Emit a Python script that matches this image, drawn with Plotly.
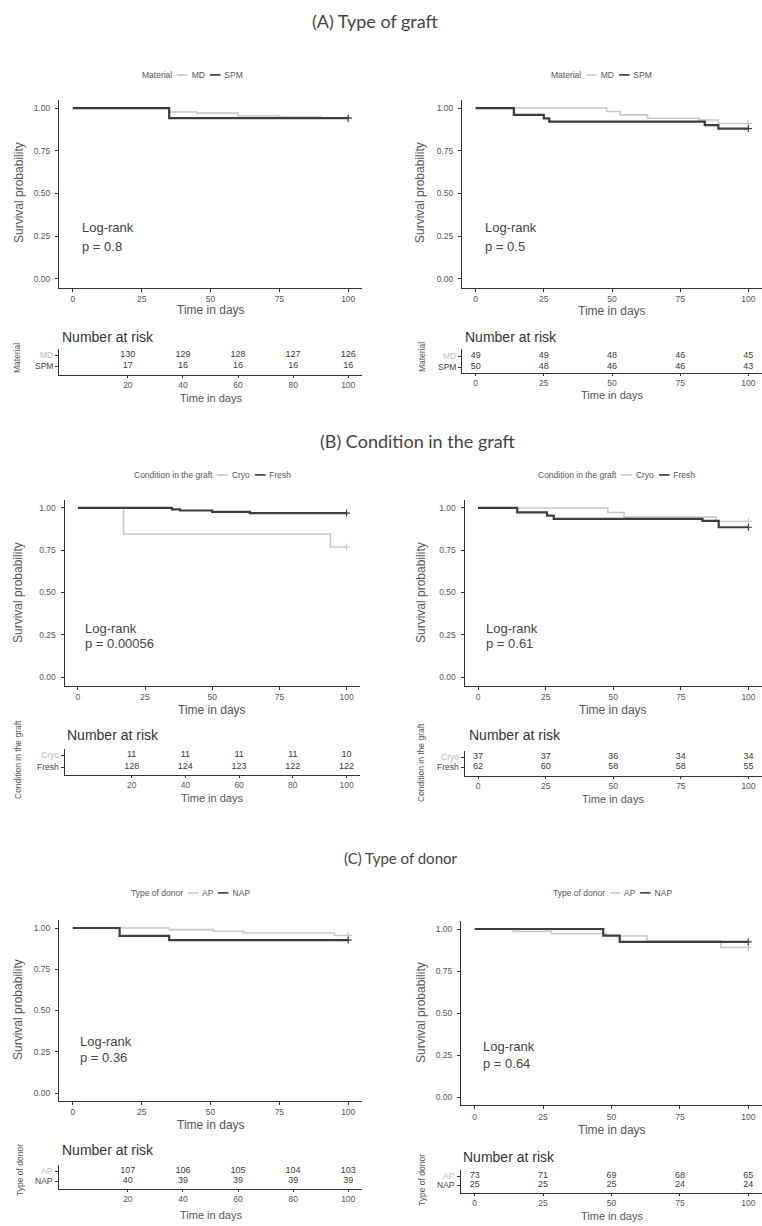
import plotly.graph_objects as go

W, H = 762, 1226

# ---------------- data ----------------
# (A) Type of graft
A1_MD_t = [0, 35, 45, 60, 75, 90, 100]
A1_MD_s = [1.0, 0.977, 0.970, 0.955, 0.948, 0.942, 0.942]
A1_SPM_t = [0, 35, 100]
A1_SPM_s = [1.0, 0.941, 0.941]
A1_risk_t = [20, 40, 60, 80, 100]
A1_risk_MD = [130, 129, 128, 127, 126]
A1_risk_SPM = [17, 16, 16, 16, 16]
A1_p = "p = 0.8"

A2_MD_t = [0, 48, 53, 63, 82, 89, 100]
A2_MD_s = [1.0, 0.98, 0.96, 0.94, 0.93, 0.91, 0.91]
A2_SPM_t = [0, 14, 25, 27, 84, 89, 100]
A2_SPM_s = [1.0, 0.96, 0.94, 0.92, 0.90, 0.88, 0.88]
A2_risk_t = [0, 25, 50, 75, 100]
A2_risk_MD = [49, 49, 48, 46, 45]
A2_risk_SPM = [50, 48, 46, 46, 43]
A2_p = "p = 0.5"

# (B) Condition in the graft
B1_Cryo_t = [0, 17, 94, 100]
B1_Cryo_s = [1.0, 0.846, 0.769, 0.769]
B1_Fresh_t = [0, 35, 38, 50, 64, 100]
B1_Fresh_s = [1.0, 0.992, 0.985, 0.977, 0.970, 0.970]
B1_risk_t = [20, 40, 60, 80, 100]
B1_risk_Cryo = [11, 11, 11, 11, 10]
B1_risk_Fresh = [128, 124, 123, 122, 122]
B1_p = "p = 0.00056"

B2_Cryo_t = [0, 48, 54, 88, 100]
B2_Cryo_s = [1.0, 0.973, 0.946, 0.92, 0.92]
B2_Fresh_t = [0, 14.5, 25.5, 28, 83, 89, 100]
B2_Fresh_s = [1.0, 0.974, 0.955, 0.936, 0.924, 0.886, 0.886]
B2_risk_t = [0, 25, 50, 75, 100]
B2_risk_Cryo = [37, 37, 36, 34, 34]
B2_risk_Fresh = [62, 60, 58, 58, 55]
B2_p = "p = 0.61"

# (C) Type of donor
C1_AP_t = [0, 35, 51, 62, 95, 100]
C1_AP_s = [1.0, 0.99, 0.98, 0.97, 0.955, 0.955]
C1_NAP_t = [0, 17, 35, 100]
C1_NAP_s = [1.0, 0.952, 0.927, 0.927]
C1_risk_t = [20, 40, 60, 80, 100]
C1_risk_AP = [107, 106, 105, 104, 103]
C1_risk_NAP = [40, 39, 39, 39, 39]
C1_p = "p = 0.36"

C2_AP_t = [0, 14, 28, 48, 63, 90, 100]
C2_AP_s = [1.0, 0.986, 0.972, 0.958, 0.93, 0.89, 0.89]
C2_NAP_t = [0, 47, 53, 100]
C2_NAP_s = [1.0, 0.96, 0.923, 0.923]
C2_risk_t = [0, 25, 50, 75, 100]
C2_risk_AP = [73, 71, 69, 68, 65]
C2_risk_NAP = [25, 25, 25, 24, 24]
C2_p = "p = 0.64"

SECTION_TITLES = ["(A) Type of graft", "(B) Condition in the graft", "(C) Type of donor"]
Y_TICKS = [0, 0.25, 0.5, 0.75, 1.0]
Y_TICKTEXT = ["0.00", "0.25", "0.50", "0.75", "1.00"]
X_TICKS = [0, 25, 50, 75, 100]

LIGHT = "#c9c9c9"
DARK = "#3d3d3d"
AXC = "#333333"
TXT = "#555555"
FONT = "Liberation Sans, Arial, sans-serif"

def fx(px):
    return px / W

def fy(py):
    return 1 - py / H

panels = [
    dict(group="Material", names=("MD", "SPM"),
         light=(A1_MD_t, A1_MD_s), dark=(A1_SPM_t, A1_SPM_s),
         risk_t=A1_risk_t, risk_light=A1_risk_MD, risk_dark=A1_risk_SPM, p=A1_p,
         kx=(59, 362), ky=(99.5, 287.5), leg=(193, 75), lr=(80, 228, 247),
         ytitle=(19, 193), xtitle=310,
         nar=(60, 337), rrows=(355, 366, 375, 349), rytitle=(17, 358), rxtitle=398),
    dict(group="Material", names=("MD", "SPM"),
         light=(A2_MD_t, A2_MD_s), dark=(A2_SPM_t, A2_SPM_s),
         risk_t=A2_risk_t, risk_light=A2_risk_MD, risk_dark=A2_risk_SPM, p=A2_p,
         kx=(462, 762), ky=(99.5, 287.5), leg=(601, 75), lr=(483, 228, 247),
         ytitle=(420, 193), xtitle=311,
         nar=(463, 337), rrows=(356, 367, 373, 349), rytitle=(422, 357), rxtitle=395),
    dict(group="Condition in the graft", names=("Cryo", "Fresh"),
         light=(B1_Cryo_t, B1_Cryo_s), dark=(B1_Fresh_t, B1_Fresh_s),
         risk_t=B1_risk_t, risk_light=B1_risk_Cryo, risk_dark=B1_risk_Fresh, p=B1_p,
         kx=(64.5, 360), ky=(499.5, 685.5), leg=(212, 475), lr=(83, 628, 643),
         ytitle=(18, 593), xtitle=710,
         nar=(65, 735), rrows=(755, 767, 775, 749), rytitle=(18, 760), rxtitle=798),
    dict(group="Condition in the graft", names=("Cryo", "Fresh"),
         light=(B2_Cryo_t, B2_Cryo_s), dark=(B2_Fresh_t, B2_Fresh_s),
         risk_t=B2_risk_t, risk_light=B2_risk_Cryo, risk_dark=B2_risk_Fresh, p=B2_p,
         kx=(464.5, 762), ky=(499.5, 685.5), leg=(616, 475), lr=(484, 628, 643),
         ytitle=(421, 593), xtitle=710,
         nar=(467, 735), rrows=(757, 767, 776, 751), rytitle=(421, 763), rxtitle=799),
    dict(group="Type of donor", names=("AP", "NAP"),
         light=(C1_AP_t, C1_AP_s), dark=(C1_NAP_t, C1_NAP_s),
         risk_t=C1_risk_t, risk_light=C1_risk_AP, risk_dark=C1_risk_NAP, p=C1_p,
         kx=(59, 362), ky=(919.75, 1101.25), leg=(190, 893), lr=(78, 1041, 1057),
         ytitle=(18, 1010), xtitle=1125,
         nar=(60, 1150), rrows=(1171, 1181, 1189, 1165), rytitle=(20, 1170), rxtitle=1215),
    dict(group="Type of donor", names=("AP", "NAP"),
         light=(C2_AP_t, C2_AP_s), dark=(C2_NAP_t, C2_NAP_s),
         risk_t=C2_risk_t, risk_light=C2_risk_AP, risk_dark=C2_risk_NAP, p=C2_p,
         kx=(461, 762), ky=(920.6, 1105.4), leg=(612, 893), lr=(481, 1046, 1063),
         ytitle=(421, 1013), xtitle=1130,
         nar=(461, 1157), rrows=(1176, 1185, 1193, 1170), rytitle=(422, 1180), rxtitle=1216),
]

fig = go.Figure()
layout = dict(width=W, height=H, margin=dict(l=0, r=0, t=0, b=0),
              paper_bgcolor="white", plot_bgcolor="white", showlegend=False)
annotations = []

def axis_style():
    return dict(showline=True, linecolor=AXC, linewidth=1, ticks="outside", ticklen=3,
                tickcolor=AXC, tickwidth=1, showgrid=False, zeroline=False,
                tickfont=dict(family=FONT, size=8.5, color=TXT))

def ann(x, y, text, size, color=TXT, xanchor="center", yanchor="middle", angle=0, family=FONT):
    annotations.append(dict(x=fx(x), y=fy(y), xref="paper", yref="paper", text=text,
                            showarrow=False, xanchor=xanchor, yanchor=yanchor, textangle=angle,
                            font=dict(family=family, size=size, color=color)))

ax_i = 0
for p in panels:
    # ---------- KM plot ----------
    ax_i += 1
    sfx = "" if ax_i == 1 else str(ax_i)
    xa = axis_style()
    xa.update(domain=[fx(p["kx"][0]), fx(p["kx"][1])], range=[-5, 105], anchor="y" + sfx,
              tickvals=X_TICKS)
    ya = axis_style()
    ya.update(domain=[fy(p["ky"][1]), fy(p["ky"][0])], range=[-0.05, 1.05], anchor="x" + sfx,
              tickvals=Y_TICKS, ticktext=Y_TICKTEXT, ticklabelstandoff=3)
    layout["xaxis" + sfx] = xa
    layout["yaxis" + sfx] = ya
    for (t, s), col, wd in ((p["light"], LIGHT, 1.6), (p["dark"], DARK, 2.2)):
        fig.add_trace(go.Scatter(x=t, y=s, mode="lines", line=dict(shape="hv", color=col, width=wd),
                                 xaxis="x" + sfx, yaxis="y" + sfx, hoverinfo="skip"))
        fig.add_trace(go.Scatter(x=[t[-1]], y=[s[-1]], mode="markers",
                                 marker=dict(symbol="cross-thin", size=5, line=dict(color=col, width=1.2)),
                                 xaxis="x" + sfx, yaxis="y" + sfx, hoverinfo="skip"))
    kxc = (p["kx"][0] + p["kx"][1]) / 2
    ann(kxc, p["xtitle"], "Time in days", 12)
    ann(p["ytitle"][0], p["ytitle"][1], "Survival probability", 12, angle=-90)
    ann(p["lr"][0], p["lr"][1], "Log-rank", 13, color="#444", xanchor="left")
    ann(p["lr"][0], p["lr"][2], p["p"], 13, color="#444", xanchor="left")
    leg = (f"{p['group']}  <span style='color:{LIGHT}'>━━</span>  {p['names'][0]}  "
           f"<span style='color:{DARK}'>━━</span>  {p['names'][1]}")
    ann(p["leg"][0], p["leg"][1], leg, 8.5)

    # ---------- risk table ----------
    ax_i += 1
    sfx = str(ax_i)
    rt, rb, axis_px, top_px = p["rrows"]
    unit = rb - rt
    ymin = 1 - (axis_px - rb) / unit
    ymax = 2 + (rt - top_px) / unit
    xa = axis_style()
    xa.update(domain=[fx(p["kx"][0]), fx(p["kx"][1])], range=[-5, 105], anchor="y" + sfx,
              tickvals=p["risk_t"], ticklen=2)
    ya = axis_style()
    ya.update(domain=[fy(axis_px), fy(top_px)], range=[ymin, ymax], anchor="x" + sfx,
              tickvals=[1, 2], showticklabels=False)
    layout["xaxis" + sfx] = xa
    layout["yaxis" + sfx] = ya
    for row, vals in ((2, p["risk_light"]), (1, p["risk_dark"])):
        fig.add_trace(go.Scatter(x=p["risk_t"], y=[row] * len(vals), mode="text",
                                 text=[str(v) for v in vals], textposition="middle center",
                                 textfont=dict(family=FONT, size=9, color="#3a3a3a"),
                                 xaxis="x" + sfx, yaxis="y" + sfx, hoverinfo="skip"))
    ax_px = p["kx"][0]
    ann(ax_px - 4, rt, p["names"][0], 8.5, color="#bbbbbb", xanchor="right")
    ann(ax_px - 4, rb, p["names"][1], 8.5, color="#444", xanchor="right")
    ann(p["nar"][0], p["nar"][1], "Number at risk", 14, color="#333", xanchor="left")
    ann(kxc, p["rxtitle"], "Time in days", 11)
    ann(p["rytitle"][0], p["rytitle"][1], p["group"], 8.5, angle=-90)

# section titles
ann(375, 21, SECTION_TITLES[0], 18, color="#444", family="Lato, sans-serif")
ann(417, 441, SECTION_TITLES[1], 18, color="#444", family="Lato, sans-serif")
ann(401, 858, SECTION_TITLES[2], 15, color="#444", family="Lato, sans-serif")

layout["annotations"] = annotations
fig.update_layout(**layout)
fig.write_html("out.html", config={"displayModeBar": False},
               post_script="document.body.style.margin='0px';document.body.style.overflow='hidden';")
